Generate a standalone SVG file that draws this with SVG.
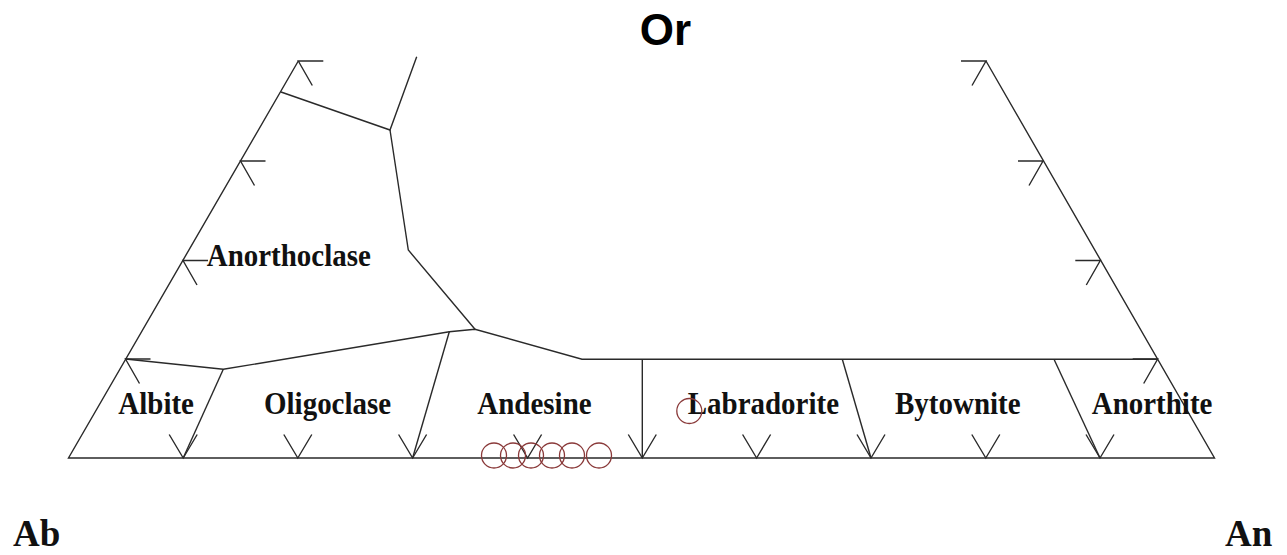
<svg xmlns="http://www.w3.org/2000/svg" xmlns:xlink="http://www.w3.org/1999/xlink" width="1287" height="555" viewBox="0 0 1287 555">
  <style>
    .ln { fill: none; stroke: #2a2a2a; stroke-width: 1.4; stroke-linejoin: miter; stroke-linecap: butt; }
    .lab { font-family: "Liberation Serif", "Times New Roman", serif; font-weight: bold; font-size: 29px; fill: #111; }
    .corner { font-family: "Liberation Serif", "Times New Roman", serif; font-weight: bold; font-size: 37px; fill: #111; }
    .top { font-family: "Liberation Sans", Arial, sans-serif; font-weight: bold; font-size: 44px; fill: #000; }
    .circ { fill: none; stroke: #8a3a3a; stroke-width: 1.3; }
  </style>
  <defs>
    <path id="tickL" d="M25,0 L0,0 L14,24.5" class="ln"/>
    <path id="tickR" d="M-25,0 L0,0 L-14,24.5" class="ln"/>
    <path id="tickB" d="M-14,-23.5 L0,0 L14,-23.5" class="ln"/>
  </defs>
  <rect width="1287" height="555" fill="#fff"/>

  <g id="frame">
    <path class="ln" d="M298.3,61 L68.5,458 L1214.5,458 L986,61"/>
  </g>

  <g id="ticks">
    <use xlink:href="#tickL" x="125.5" y="359"/>
    <use xlink:href="#tickL" x="183" y="260.5"/>
    <use xlink:href="#tickL" x="240.5" y="161"/>
    <use xlink:href="#tickL" x="298.3" y="61"/>
    <use xlink:href="#tickR" x="1157.7" y="359"/>
    <use xlink:href="#tickR" x="1100.3" y="260.5"/>
    <use xlink:href="#tickR" x="1043" y="161"/>
    <use xlink:href="#tickR" x="986" y="61"/>
    <use xlink:href="#tickB" x="183.2" y="458"/>
    <use xlink:href="#tickB" x="297.8" y="458"/>
    <use xlink:href="#tickB" x="412.6" y="458"/>
    <use xlink:href="#tickB" x="527.6" y="458"/>
    <use xlink:href="#tickB" x="642.3" y="458"/>
    <use xlink:href="#tickB" x="756.6" y="458"/>
    <use xlink:href="#tickB" x="871" y="458"/>
    <use xlink:href="#tickB" x="985.8" y="458"/>
    <use xlink:href="#tickB" x="1100" y="458"/>
  </g>

  <g id="connectors">
    <path class="ln" d="M281,92 L390,130 L416.7,56.7"/>
    <path class="ln" d="M390,130 L408.3,250 L475,329.3"/>
    <path class="ln" d="M125.5,359 L223.3,369.3 L449.3,331.7 L475,329.3 L582,359.2 L1157.7,359.2"/>
    <path class="ln" d="M223.3,369.3 L183.2,458"/>
    <path class="ln" d="M449.3,331.7 L412.6,458"/>
    <path class="ln" d="M642.3,359.2 L642.3,458"/>
    <path class="ln" d="M842.3,359.2 L871,458"/>
    <path class="ln" d="M1054,359.2 L1100,458"/>
  </g>

  <g id="label-or"><text class="top" x="665.5" y="45" text-anchor="middle">Or</text></g>
  <g id="label-ab"><text class="corner" x="13" y="546">Ab</text></g>
  <g id="label-an"><text class="corner" x="1225" y="546">An</text></g>

  <g id="anorthoclase"><text class="lab" transform="translate(206.7,266) scale(1,1.12)">Anorthoclase</text></g>
  <g id="albite"><text class="lab" transform="translate(118.3,413.5) scale(1,1.12)">Albite</text></g>
  <g id="oligoclase"><text class="lab" transform="translate(264,413.5) scale(1,1.12)">Oligoclase</text></g>
  <g id="andesine"><text class="lab" transform="translate(477.3,413.5) scale(1,1.12)">Andesine</text></g>
  <g id="labradorite"><text class="lab" transform="translate(687.7,413.5) scale(1,1.12)">Labradorite</text></g>
  <g id="bytownite"><text class="lab" transform="translate(895,413.5) scale(1,1.12)">Bytownite</text></g>
  <g id="anorthite"><text class="lab" transform="translate(1091.7,413.5) scale(1,1.12)">Anorthite</text></g>

  <g id="circles">
    <circle class="circ" cx="494" cy="455.5" r="12.5"/>
    <circle class="circ" cx="513" cy="455.5" r="12.5"/>
    <circle class="circ" cx="531" cy="455.5" r="12.5"/>
    <circle class="circ" cx="552" cy="455.5" r="12.5"/>
    <circle class="circ" cx="572" cy="455.5" r="12.5"/>
    <circle class="circ" cx="599" cy="455.5" r="12.5"/>
    <circle class="circ" cx="689.3" cy="411" r="12.5"/>
  </g>
</svg>
